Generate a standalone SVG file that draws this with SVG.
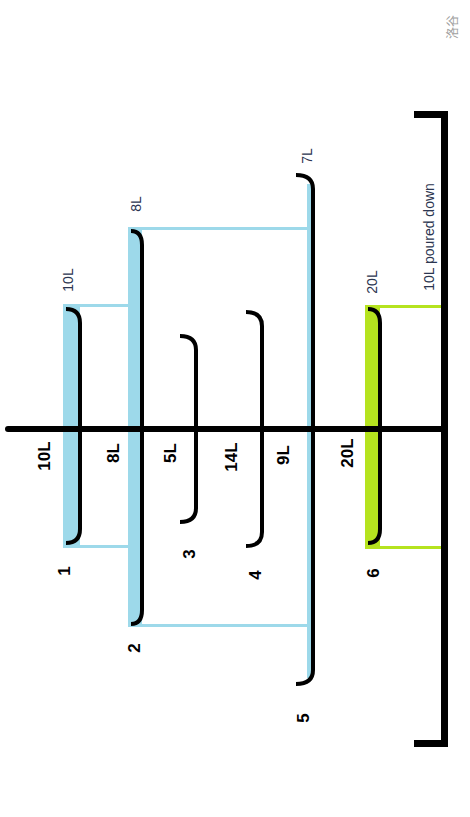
<svg xmlns="http://www.w3.org/2000/svg" width="470" height="817" viewBox="0 0 470 817">
<style>
.cup{fill:none;stroke:#000;stroke-width:4;stroke-linecap:butt}
.blue{fill:#9dd9ea}
.green{fill:#b5e31f}
.bl{stroke:#9dd9ea;stroke-width:3;fill:none}
.gl{stroke:#b5e31f;stroke-width:3;fill:none}
.big{font-family:"Liberation Sans",Arial,sans-serif;font-weight:bold;font-size:17px;fill:#000;text-anchor:middle;dominant-baseline:central}
.small{font-family:"Liberation Sans",Arial,sans-serif;font-size:14px;fill:#2b3550;text-anchor:middle;dominant-baseline:central}
.wm{font-family:"Noto Sans CJK SC",sans-serif;font-size:12px;fill:#a0a0a0;text-anchor:middle;dominant-baseline:central}
</style>
<rect width="470" height="817" fill="#fff"/>
<g id="connectors">
<line class="bl" x1="63" y1="305.5" x2="129" y2="305.5"/>
<line class="bl" x1="63" y1="546.5" x2="129" y2="546.5"/>
<line class="bl" x1="128" y1="228.5" x2="308" y2="228.5"/>
<line class="bl" x1="128" y1="625.5" x2="308" y2="625.5"/>
<line class="gl" x1="365" y1="306.5" x2="443" y2="306.5"/>
<line class="gl" x1="365" y1="547.5" x2="443" y2="547.5"/>
</g>
<g id="cup1">
<rect class="blue" x="63" y="305" width="17" height="242"/>
<path class="cup" d="M66,309 Q80,309 80,323 V529 Q80,543 66,543"/>
<text class="small" transform="translate(68,280) rotate(-90)">10L</text>
<text class="big" transform="translate(64,571) rotate(-90)">1</text>
</g>
<g id="cup2">
<rect class="blue" x="128" y="228" width="14" height="398"/>
<path class="cup" d="M131,231 Q142,231 142,245 V610 Q142,624 131,624"/>
<text class="small" transform="translate(136,204) rotate(-90)">8L</text>
<text class="big" transform="translate(134,648) rotate(-90)">2</text>
</g>
<g id="cup3">
<path class="cup" d="M180,336 Q196,336 196,350 V508 Q196,522 180,522"/>
<text class="big" transform="translate(189,554) rotate(-90)">3</text>
</g>
<g id="cup4">
<path class="cup" d="M246,312 Q262,312 262,326 V532 Q262,546 246,546"/>
<text class="big" transform="translate(255,575) rotate(-90)">4</text>
</g>
<g id="cup5">
<rect class="blue" x="307" y="184" width="6" height="494"/>
<path class="cup" d="M296,175 Q313,175 313,189 V670 Q313,684 296,684"/>
<text class="small" transform="translate(307,156) rotate(-90)">7L</text>
<text class="big" transform="translate(303,718) rotate(-90)">5</text>
</g>
<g id="cup6">
<rect class="green" x="365" y="306" width="15" height="241"/>
<path class="cup" d="M368,309 Q380,309 380,323 V529 Q380,543 368,543"/>
<text class="small" transform="translate(372,282) rotate(-90)">20L</text>
<text class="big" transform="translate(373,573) rotate(-90)">6</text>
</g>
<g id="axis">
<line x1="8" y1="429" x2="443" y2="429" stroke="#000" stroke-width="6" stroke-linecap="round"/>
<text class="big" transform="translate(44,456) rotate(-90)">10L</text>
<text class="big" transform="translate(113,453) rotate(-90)">8L</text>
<text class="big" transform="translate(170,453) rotate(-90)">5L</text>
<text class="big" transform="translate(231,457) rotate(-90)">14L</text>
<text class="big" transform="translate(283,455) rotate(-90)">9L</text>
<text class="big" transform="translate(347,453) rotate(-90)">20L</text>
</g>
<g id="ground">
<path d="M414,114.5 H444.5 V743.5 H414" fill="none" stroke="#000" stroke-width="7" stroke-linejoin="miter"/>
<text class="small" transform="translate(429,237) rotate(-90)">10L poured down</text>
</g>
<text class="wm" transform="translate(451,27) rotate(-90)">洛谷</text>
</svg>
